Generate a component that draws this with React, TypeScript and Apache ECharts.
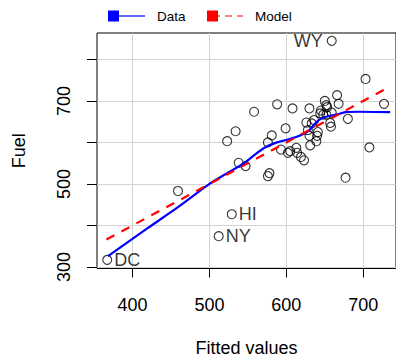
import React, { useEffect, useRef } from "react";
import * as echarts from "echarts";

// Scatter: fitted values vs observed fuel
const fitted = [367, 459, 512, 529, 523, 534, 538, 547, 558, 576, 578, 576, 581, 588, 593, 599, 602, 605, 608, 613, 614, 619, 623, 626, 630, 628, 630, 631, 633, 636, 641, 640, 639, 645, 644, 648, 650, 652, 653, 659, 657, 658, 666, 668, 659, 680, 677, 703, 708, 727, 652];
const fuel = [317, 483, 374, 427, 603, 627, 551, 543, 674, 519, 526, 600, 617, 692, 583, 634, 575, 579, 682, 587, 575, 565, 557, 648, 682, 630, 616, 593, 646, 654, 625, 616, 603, 677, 670, 667, 700, 690, 685, 672, 647, 638, 714, 693, 845, 657, 515, 753, 588, 693, 667];
const stateNames = ["DC", "", "NY", "HI", "", "", "", "", "", "", "", "", "", "", "", "", "", "", "", "", "", "", "", "", "", "", "", "", "", "", "", "", "", "", "", "", "", "", "", "", "", "", "", "", "WY", "", "", "", "", "", ""];

// Smooth of the data ("Data") and of the model ("Model")
const dataLineX = [368, 420, 459, 500, 522, 544, 560, 572, 586, 602, 618, 629, 637, 648, 665, 677, 694, 735];
const dataLineY = [326, 394, 444, 500, 525, 549, 572, 588, 599, 607, 617, 628, 645, 660, 667, 673, 674, 673];
const modelLineX = [366, 735];
const modelLineY = [366, 735];

const xTicks = [400, 500, 600, 700];
const yTicks = [300, 400, 500, 600, 700, 800];
const yTickLabels = [300, 500, 700];

const FONT = "'Liberation Sans', Arial, Helvetica, sans-serif";

export default function App() {
  const ref = useRef<HTMLDivElement>(null);
  useEffect(() => {
    if (!ref.current) return;
    const chart = echarts.init(ref.current, undefined, { renderer: "svg" });
    const labelPos: Record<string, string> = { DC: "right", NY: "right", HI: "right", WY: "left" };
    chart.setOption({
      animation: false,
      backgroundColor: "#fff",
      textStyle: { fontFamily: FONT },
      grid: {
        left: 97,
        top: 33,
        width: 308,
        height: 240.3,
        show: true,
        borderColor: "#000",
        borderWidth: 1,
        backgroundColor: "#fff",
      },
      xAxis: {
        type: "value",
        min: 353.7,
        max: 742.6,
        name: "Fitted values",
        nameLocation: "middle",
        nameGap: 70.5,
        nameTextStyle: { fontSize: 18, color: "#000", fontFamily: FONT },
        axisLine: { show: false },
        axisTick: { show: true, customValues: xTicks, length: 9, lineStyle: { color: "#000", width: 1 } },
        axisLabel: { customValues: xTicks, fontSize: 18, color: "#000", margin: 27, fontFamily: FONT },
        splitLine: { show: true, lineStyle: { color: "#d3d3d3", width: 1 } },
      },
      yAxis: {
        type: "value",
        min: 296.2,
        max: 863.8,
        name: "Fuel",
        nameLocation: "middle",
        nameRotate: 90,
        nameGap: 69,
        nameTextStyle: { fontSize: 18, color: "#000", fontFamily: FONT },
        axisLine: { show: false },
        axisTick: { show: true, customValues: yTicks, length: 10, lineStyle: { color: "#000", width: 1 } },
        axisLabel: { customValues: yTickLabels, rotate: 90, fontSize: 18, color: "#000", margin: 24, fontFamily: FONT },
        splitLine: { show: true, lineStyle: { color: "#d3d3d3", width: 1 } },
      },
      series: [
        {
          type: "scatter",
          symbol: "circle",
          symbolSize: 9,
          itemStyle: { color: "rgba(0,0,0,0)", borderColor: "#000", borderWidth: 1.1 },
          data: fitted.map((x, i) => {
            const n = stateNames[i];
            const item: any = { value: [x, fuel[i]], name: n };
            if (n) {
              item.label = {
                show: true,
                position: labelPos[n] || "right",
                distance: n === "WY" ? 4 : 2,
                formatter: n,
                fontSize: 18,
                color: "#000",
                fontFamily: FONT,
              };
            }
            return item;
          }),
          z: 2,
        },
        {
          type: "line",
          name: "Data",
          showSymbol: false,
          smooth: 0.25,
          data: dataLineX.map((x, i) => [x, dataLineY[i]]),
          lineStyle: { color: "#0000ff", width: 2.2 },
          itemStyle: { color: "#0000ff" },
          z: 3,
        },
        {
          type: "line",
          name: "Model",
          showSymbol: false,
          data: modelLineX.map((x, i) => [x, modelLineY[i]]),
          lineStyle: { color: "#ff0000", width: 2.2, type: [9, 8] },
          itemStyle: { color: "#ff0000" },
          z: 4,
        },
      ],
      graphic: [
        { type: "rect", shape: { x: 108, y: 10.5, width: 11, height: 11 }, style: { fill: "#0000ff" } },
        { type: "line", shape: { x1: 119, y1: 16, x2: 145, y2: 16 }, style: { stroke: "#0000ff", lineWidth: 1.2 } },
        { type: "text", x: 157, y: 16, style: { text: "Data", fontSize: 13.5, fill: "#000", verticalAlign: "middle", fontFamily: FONT } },
        { type: "rect", shape: { x: 207, y: 10.5, width: 11, height: 11 }, style: { fill: "#ff0000" } },
        { type: "line", shape: { x1: 213, y1: 16, x2: 243, y2: 16 }, style: { stroke: "#ff0000", lineWidth: 1.2, lineDash: [7, 5] } },
        { type: "text", x: 255, y: 16, style: { text: "Model", fontSize: 13.5, fill: "#000", verticalAlign: "middle", fontFamily: FONT } },
      ],
    });
    return () => chart.dispose();
  }, []);
  return <div ref={ref} style={{ position: "fixed", left: 0, top: 0, width: 396, height: 362 }} />;
}
